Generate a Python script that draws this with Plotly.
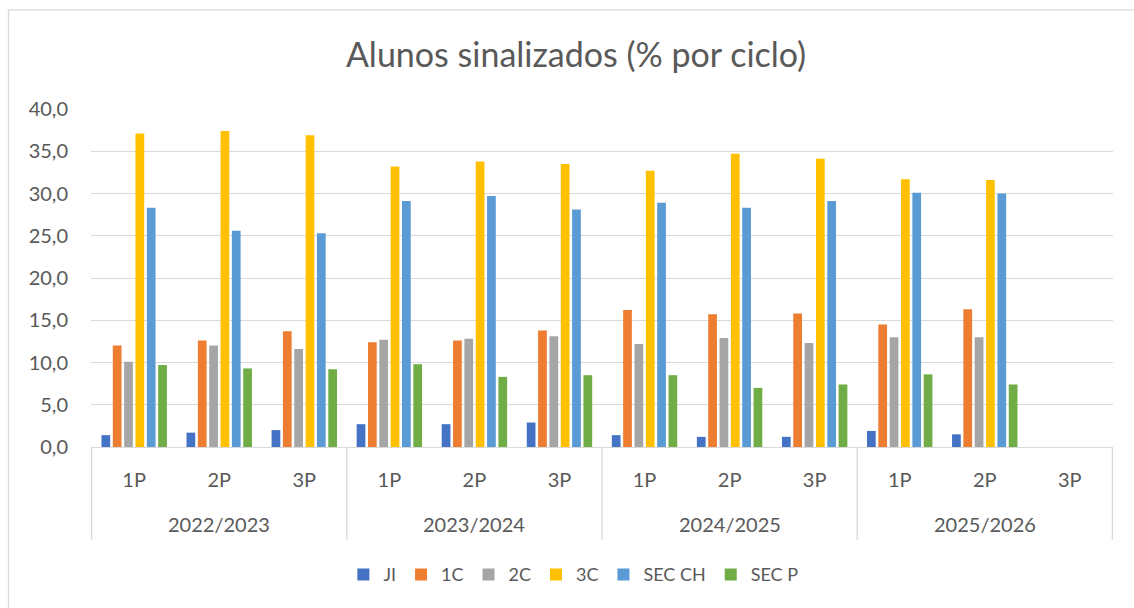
import plotly.graph_objects as go

year_labels = ["2022/2023", "2023/2024", "2024/2025", "2025/2026"]
period_labels = ["1P", "2P", "3P"]
categories = [f"{y} {p}" for y in year_labels for p in period_labels]
periods = [p for y in year_labels for p in period_labels]

series_names = ["JI", "1C", "2C", "3C", "SEC CH", "SEC P"]
ji = [1.4, 1.7, 2.0, 2.7, 2.7, 2.9, 1.4, 1.2, 1.2, 1.9, 1.5, None]
c1 = [12.0, 12.6, 13.7, 12.4, 12.6, 13.8, 16.2, 15.7, 15.8, 14.5, 16.3, None]
c2 = [10.1, 12.0, 11.6, 12.7, 12.8, 13.1, 12.2, 12.9, 12.3, 13.0, 13.0, None]
c3 = [37.1, 37.4, 36.9, 33.2, 33.8, 33.5, 32.7, 34.7, 34.1, 31.7, 31.6, None]
sec_ch = [28.3, 25.6, 25.3, 29.1, 29.7, 28.1, 28.9, 28.3, 29.1, 30.1, 30.0, None]
sec_p = [9.7, 9.3, 9.2, 9.8, 8.3, 8.5, 8.5, 7.0, 7.4, 8.6, 7.4, None]
values = [ji, c1, c2, c3, sec_ch, sec_p]
colors = ["#4472C4", "#ED7D31", "#A5A5A5", "#FFC000", "#5B9BD5", "#70AD47"]

y_ticks = [0, 5, 10, 15, 20, 25, 30, 35, 40]

FONT = "Lato, Open Sans, sans-serif"
GREY = "#595959"
LINE = "#D9D9D9"

fig = go.Figure()
for name, vals, col in zip(series_names, values, colors):
    fig.add_trace(go.Bar(x=categories, y=vals, name=name,
                         marker=dict(color=col, line=dict(width=0))))

fig.update_layout(
    width=1134, height=608,
    margin=dict(l=91, r=21, t=109, b=161),
    paper_bgcolor="white", plot_bgcolor="white",
    separators=", ",
    barmode="group", bargap=0.2, bargroupgap=0.23,
    title=dict(text="Alunos sinalizados (% por ciclo)", x=0.508, xanchor="center",
               y=0.909, yanchor="middle",
               font=dict(family=FONT, size=34, color=GREY)),
    font=dict(family=FONT, color=GREY),
    legend=dict(orientation="h", x=0.472, xanchor="center", y=-0.378, yanchor="middle",
                font=dict(size=18, color=GREY), itemwidth=30, traceorder="normal"),
    yaxis=dict(range=[0, 40], tickvals=y_ticks, tickformat=".1f",
               gridcolor=LINE, gridwidth=1.3, zeroline=False, automargin=False,
               showline=False, ticks="", ticklabelstandoff=22,
               tickfont=dict(size=20, color=GREY)),
    xaxis=dict(type="category", categoryorder="array", categoryarray=categories,
               tickvals=categories, ticktext=periods, automargin=False,
               showline=True, linecolor=LINE, linewidth=1.3, ticks="",
               ticklabelstandoff=15, tickfont=dict(size=20, color=GREY)),
    showlegend=True,
)

# year (second level) labels of the category axis
for i, yl in enumerate(year_labels):
    fig.add_annotation(x=i * 3 + 1, xref="x", y=-0.228, yref="paper", text=yl,
                       showarrow=False, xanchor="center", yanchor="middle",
                       font=dict(family=FONT, size=20, color=GREY))

# group dividers
for k in range(len(year_labels) + 1):
    fig.add_shape(type="line", xref="x", yref="paper",
                  x0=k * 3 - 0.5, x1=k * 3 - 0.5, y0=0, y1=-0.275,
                  line=dict(color=LINE, width=1.3))

# chart border
fig.add_shape(type="rect", xref="paper", yref="paper",
              x0=-0.0807, x1=1.08, y0=-0.7, y1=1.293,
              line=dict(color=LINE, width=1.3))

fig.write_html("out.html", config={"displayModeBar": False},
               post_script="document.body.style.margin='0';document.body.style.overflow='hidden';")
